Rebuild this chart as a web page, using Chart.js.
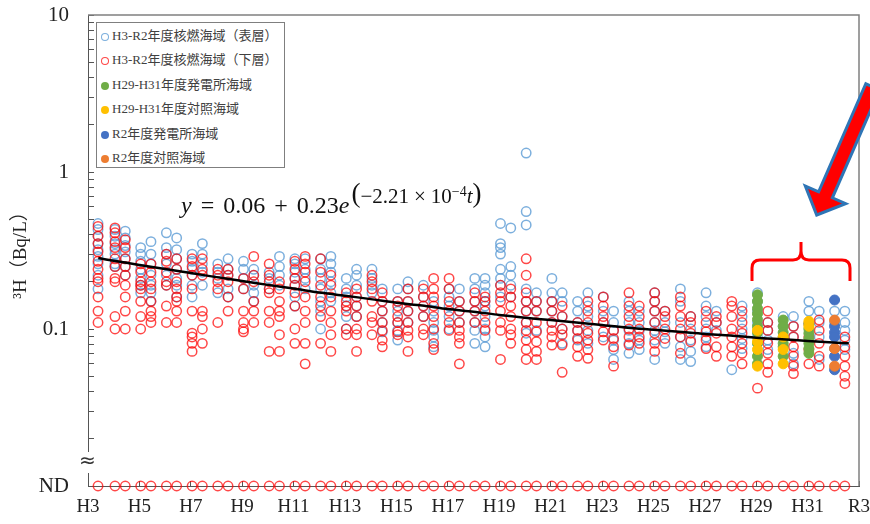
<!DOCTYPE html>
<html>
<head>
<meta charset="utf-8">
<title>3H</title>
<script src="https://cdn.jsdelivr.net/npm/chart.js"></script>
<style>
  body { margin: 0; background: #fff; }
  #wrap { position: relative; width: 870px; height: 524px; }
  #legend { position: absolute; left: 96px; top: 22px; width: 189px; height: 146px; box-sizing: border-box;
            border: 1px solid #7f7f7f; background: #fff; padding-top: 1px;
            font: 13px "Liberation Serif", "Noto Sans CJK JP", serif; color: #404040; }
  #legend div { height: 24.4px; line-height: 24.4px; white-space: nowrap; }
  #legend .mk { display: inline-block; width: 8px; height: 8px; border-radius: 50%; box-sizing: border-box;
                margin: 0 3px 0 4px; vertical-align: -1px; }
  #eq { position: absolute; left: 181px; top: 193px; font: 24px "Liberation Serif", serif; line-height: 24px;
        color: #111; white-space: nowrap; }
  #eq .op { margin: 0 9px; }
  #eq .ex { font-size: 21px; line-height: 0; position: relative; top: -10px; margin-left: 2px; }
  #eq .ex .tm { margin: 0 5px; }
  #eq .par { font-size: 27px; line-height: 0; position: relative; top: -1px; }
  #eq .sup { font-size: 14px; line-height: 0; position: relative; top: -7px; }
</style>
</head>
<body>
<div id="wrap">
  <canvas id="myChart" width="870" height="524"></canvas>
  <div id="legend"></div>
  <div id="eq"><i>y</i><span class="op">=</span>0.06<span class="op">+</span>0.23<i>e</i><span class="ex"><span class="par">(</span>−2.21<span class="tm">×</span>10<span class="sup">−4</span><i>t</i><span class="par">)</span></span></div>
</div>

<script>
  // x axis: years since start of H3 (FY1991)
  var xTickValues = [0, 2, 4, 6, 8, 10, 12, 14, 16, 18, 20, 22, 24, 26, 28, 30]
  var xTickLabels = ["H3", "H5", "H7", "H9", "H11", "H13", "H15", "H17", "H19", "H21", "H23", "H25", "H27", "H29", "H31", "R3"]

  var yTickValues = [0.01, 0.02, 0.03, 0.04, 0.05, 0.06, 0.07, 0.08, 0.09,
                     0.1, 0.2, 0.3, 0.4, 0.5, 0.6, 0.7, 0.8, 0.9,
                     1, 2, 3, 4, 5, 6, 7, 8, 9, 10]
  var yLabelValues = [0.01, 0.1, 1, 10]
  var yLabelTexts = ["ND", "0.1", "1", "10"]
  var yTitle = "³H（Bq/L）"

  var seriesNames = ["H3-R2年度核燃海域（表層）", "H3-R2年度核燃海域（下層）", "H29-H31年度発電所海域",
                     "H29-H31年度対照海域", "R2年度発電所海域", "R2年度対照海域"]

  // sampling columns (years since H3)
  var colTimes = [0.39, 1.05, 1.45, 2.05, 2.45, 3.05, 3.45, 4.05, 4.45, 5.05, 5.45, 6.05, 6.45, 7.05, 7.45,
                  8.05, 8.45, 9.05, 9.45, 10.05, 10.45, 11.05, 11.45, 12.05, 12.45, 13.05, 13.45, 14.05, 14.45,
                  15.05, 15.45, 16.05, 16.45, 17.05, 17.45, 18.05, 18.45, 19.05, 19.45, 20.05, 20.45, 21.05, 21.45,
                  22.05, 22.45, 23.05, 23.45, 24.05, 24.45, 25.05, 25.45, 26.05, 26.45, 27.05, 27.45, 28.05, 28.45,
                  29.05, 29.45]

  // 表層 (Bq/L), one list per column
  var surfaceVals = [
    [0.47, 0.43, 0.39, 0.35, 0.32, 0.29, 0.26, 0.22, 0.18],
    [0.43, 0.39, 0.35, 0.32, 0.30, 0.26, 0.25],
    [0.42, 0.38, 0.34, 0.31, 0.28, 0.25, 0.22],
    [0.33, 0.30, 0.27, 0.24, 0.21, 0.19, 0.17],
    [0.36, 0.30, 0.26, 0.22, 0.19, 0.17, 0.15],
    [0.41, 0.33, 0.30, 0.26, 0.22, 0.19],
    [0.38, 0.32, 0.28, 0.24, 0.21, 0.19, 0.16],
    [0.30, 0.27, 0.24, 0.22, 0.19, 0.16],
    [0.35, 0.30, 0.26, 0.23, 0.19],
    [0.26, 0.23, 0.21, 0.17],
    [0.28, 0.24, 0.22, 0.18, 0.16],
    [0.27, 0.24, 0.21, 0.18],
    [0.24, 0.22, 0.19, 0.17, 0.15],
    [0.23, 0.21, 0.18],
    [0.29, 0.25, 0.22, 0.19],
    [0.28, 0.26, 0.23, 0.21, 0.19, 0.16, 0.14],
    [0.28, 0.24, 0.21, 0.18],
    [0.28, 0.24, 0.21, 0.18, 0.15, 0.13, 0.10],
    [0.29, 0.26, 0.23, 0.20, 0.17, 0.15],
    [0.21, 0.18, 0.16, 0.14, 0.12, 0.10],
    [0.24, 0.22, 0.19, 0.16, 0.14, 0.12],
    [0.24, 0.21, 0.19, 0.17],
    [0.18, 0.15, 0.13, 0.11, 0.096],
    [0.18, 0.15, 0.13, 0.11, 0.098, 0.085],
    [0.20, 0.18, 0.15, 0.13, 0.11],
    [0.19, 0.16, 0.14, 0.12],
    [0.15, 0.13, 0.11, 0.098, 0.089, 0.077],
    [0.18, 0.16, 0.14, 0.12, 0.10],
    [0.18, 0.15, 0.13, 0.11],
    [0.21, 0.18, 0.15, 0.13, 0.11, 0.098, 0.081],
    [0.21, 0.19, 0.17, 0.15, 0.14, 0.12, 0.10, 0.089, 0.077],
    [0.47, 0.35, 0.33, 0.30, 0.24, 0.21, 0.19, 0.16],
    [0.44, 0.25, 0.22, 0.19, 0.16],
    [1.32, 0.56, 0.46, 0.18, 0.15, 0.13, 0.11, 0.094],
    [0.17, 0.15, 0.13, 0.098],
    [0.21, 0.17, 0.15, 0.13, 0.11],
    [0.17, 0.15, 0.12, 0.10, 0.081],
    [0.15, 0.13, 0.11, 0.098, 0.085],
    [0.17, 0.14, 0.12, 0.098, 0.081],
    [0.16, 0.13, 0.11, 0.089],
    [0.13, 0.11, 0.098, 0.085, 0.074, 0.064],
    [0.15, 0.13, 0.11, 0.098, 0.081, 0.070],
    [0.13, 0.11, 0.098, 0.085, 0.074],
    [0.17, 0.15, 0.13, 0.11, 0.098, 0.085, 0.064],
    [0.13, 0.11, 0.096, 0.081],
    [0.18, 0.15, 0.11, 0.089, 0.077, 0.064],
    [0.12, 0.10, 0.085, 0.072, 0.062],
    [0.17, 0.14, 0.12, 0.10, 0.089, 0.077],
    [0.13, 0.11, 0.098],
    [0.055],
    [0.14, 0.12, 0.10, 0.087, 0.075],
    [0.17, 0.15, 0.13, 0.11, 0.089],
    [0.11, 0.098, 0.085, 0.074],
    [0.12, 0.104],
    [0.12, 0.104, 0.089, 0.070, 0.060],
    [0.15, 0.13],
    [0.13, 0.11, 0.089, 0.064],
    [0.13, 0.11],
    [0.13, 0.11, 0.098, 0.085, 0.074]
  ]

  // 下層 (Bq/L)
  var bottomVals = [
    [0.45, 0.39, 0.35, 0.31, 0.27, 0.24, 0.21, 0.20, 0.16, 0.13, 0.11],
    [0.44, 0.41, 0.36, 0.33, 0.28, 0.25, 0.21, 0.20, 0.12, 0.10],
    [0.37, 0.33, 0.28, 0.25, 0.22, 0.19, 0.16, 0.13, 0.10],
    [0.26, 0.23, 0.20, 0.19, 0.18, 0.15, 0.12, 0.10],
    [0.26, 0.23, 0.20, 0.18, 0.15, 0.13, 0.12, 0.11],
    [0.30, 0.27, 0.23, 0.20, 0.19, 0.14, 0.11],
    [0.28, 0.24, 0.20, 0.18, 0.16, 0.15, 0.13, 0.11],
    [0.28, 0.25, 0.22, 0.18, 0.13, 0.094, 0.089, 0.081, 0.072],
    [0.28, 0.24, 0.22, 0.13, 0.12, 0.10, 0.081],
    [0.24, 0.22, 0.20, 0.18, 0.11],
    [0.24, 0.22, 0.20, 0.16, 0.13],
    [0.21, 0.18, 0.13, 0.11, 0.10, 0.096],
    [0.29, 0.22, 0.20, 0.15, 0.13, 0.11],
    [0.26, 0.22, 0.20, 0.18, 0.17, 0.13, 0.11, 0.072],
    [0.20, 0.18, 0.15, 0.13, 0.12, 0.092, 0.072],
    [0.27, 0.24, 0.21, 0.19, 0.17, 0.14, 0.10, 0.081],
    [0.29, 0.26, 0.23, 0.20, 0.16, 0.13, 0.11, 0.081, 0.060],
    [0.28, 0.23, 0.19, 0.16, 0.14, 0.12, 0.081],
    [0.22, 0.19, 0.16, 0.13, 0.11, 0.092, 0.072],
    [0.17, 0.15, 0.14, 0.13, 0.10, 0.092],
    [0.18, 0.16, 0.14, 0.12, 0.10, 0.092, 0.072],
    [0.22, 0.20, 0.18, 0.15, 0.12, 0.11, 0.092],
    [0.17, 0.15, 0.13, 0.11, 0.098, 0.085, 0.077],
    [0.15, 0.14, 0.12, 0.11, 0.096, 0.092],
    [0.18, 0.15, 0.13, 0.11, 0.098, 0.089, 0.072],
    [0.18, 0.16, 0.14, 0.12, 0.10, 0.092],
    [0.21, 0.18, 0.16, 0.14, 0.12, 0.10, 0.081, 0.074],
    [0.21, 0.18, 0.15, 0.13, 0.11, 0.098],
    [0.15, 0.13, 0.11, 0.098, 0.089, 0.081, 0.060],
    [0.17, 0.15, 0.13, 0.11],
    [0.16, 0.15, 0.13, 0.11, 0.098],
    [0.19, 0.17, 0.15, 0.13, 0.11, 0.098, 0.064],
    [0.18, 0.16, 0.14, 0.12, 0.10, 0.092, 0.081],
    [0.28, 0.22, 0.17, 0.15, 0.13, 0.11, 0.098, 0.085, 0.074, 0.064],
    [0.15, 0.13, 0.11, 0.096, 0.083, 0.072, 0.064],
    [0.15, 0.13, 0.11, 0.098, 0.089, 0.079],
    [0.14, 0.12, 0.10, 0.092, 0.079, 0.053],
    [0.11, 0.098, 0.087, 0.077, 0.067],
    [0.15, 0.13, 0.11, 0.094, 0.085, 0.074, 0.065],
    [0.16, 0.14, 0.12, 0.11, 0.096, 0.085],
    [0.098, 0.087, 0.077, 0.058],
    [0.17, 0.14, 0.12, 0.10, 0.089, 0.079],
    [0.14, 0.12, 0.10, 0.089, 0.081],
    [0.17, 0.15, 0.13, 0.11, 0.094, 0.081, 0.072],
    [0.13, 0.12, 0.10, 0.087],
    [0.16, 0.14, 0.12, 0.10, 0.089, 0.070],
    [0.12, 0.11, 0.094, 0.083],
    [0.13, 0.11, 0.096, 0.085, 0.075],
    [0.12, 0.11, 0.094, 0.077, 0.067],
    [0.15, 0.14, 0.12, 0.10, 0.089, 0.077, 0.067],
    [0.13, 0.11, 0.094, 0.081, 0.070, 0.060],
    [0.042],
    [0.13, 0.11, 0.098, 0.081, 0.070, 0.060, 0.053],
    [],
    [0.104, 0.089, 0.077, 0.067, 0.058, 0.052],
    [0.108, 0.089, 0.074, 0.060],
    [0.114, 0.098, 0.081, 0.067, 0.058],
    [],
    [0.089, 0.077, 0.067, 0.058, 0.050, 0.045]
  ]

  var plantH29Times = [26.05, 27.05, 28.05]
  var plantH29Vals = [[0.165, 0.15, 0.135, 0.125, 0.115, 0.104, 0.095, 0.081, 0.067, 0.06],
                      [0.114, 0.104, 0.095, 0.089, 0.081, 0.077, 0.067],
                      [0.108, 0.10, 0.094, 0.087, 0.081, 0.075, 0.07]]
  var refH29Times = [26.05, 27.05, 28.05]
  var refH29Vals = [[0.098, 0.083, 0.074, 0.058], [0.089, 0.074, 0.06], [0.112, 0.104]]
  var plantR2Times = [29.05]
  var plantR2Vals = [[0.153, 0.104, 0.095, 0.089, 0.075, 0.067, 0.055]]
  var refR2Times = [29.05]
  var refR2Vals = [[0.114, 0.075, 0.058]]

  var ndLevel = 0.01   // not detected, drawn on the ND line

  // fitted curve
  var trendT = [0.4, 1, 2, 3, 4, 5, 6, 7, 8, 9, 10, 11, 12, 13, 14, 15, 16, 17, 18, 19, 20,
                21, 22, 23, 24, 25, 26, 27, 28, 29, 29.6]
  var trendY = [0.283, 0.272, 0.256, 0.241, 0.227, 0.214, 0.202, 0.191, 0.181, 0.171, 0.163,
                0.155, 0.147, 0.141, 0.134, 0.129, 0.123, 0.118, 0.114, 0.110, 0.106,
                0.102, 0.099, 0.096, 0.093, 0.091, 0.088, 0.086, 0.084, 0.082, 0.081]

  function toPoints(times, cols) {
    var out = []
    times.forEach(function (t, i) {
      cols[i].forEach(function (v) { out.push({x: t, y: v}) })
    })
    return out
  }

  function openSeries(label, data, color, order) {
    return { label: label, data: data, pointRadius: 4.7, pointBorderWidth: 1.5,
             pointBorderColor: color, borderColor: color,
             pointBackgroundColor: 'rgba(255,255,255,0)', backgroundColor: 'rgba(255,255,255,0)', order: order }
  }
  function filledSeries(label, data, color, order) {
    return { label: label, data: data, pointRadius: 5, pointBorderWidth: 1,
             pointBorderColor: color, borderColor: color,
             pointBackgroundColor: color, backgroundColor: color, order: order }
  }

  var blueOpen = 'rgba(91,155,213,0.8)'
  var redOpen = 'rgba(255,0,0,0.72)'

  var ndSeries = openSeries('ND', colTimes.map(function (t) { return {x: t, y: ndLevel} }), redOpen, 5)
  ndSeries.clip = false

  // frame, axis break, arrow and bracket
  var decor = {
    id: 'decor',
    afterDraw: function (chart) {
      var ctx = chart.ctx, a = chart.chartArea
      ctx.save()
      ctx.strokeStyle = '#808080'
      ctx.lineWidth = 1.5
      ctx.beginPath()
      ctx.moveTo(a.left, a.top); ctx.lineTo(a.right, a.top); ctx.lineTo(a.right, a.bottom)
      ctx.stroke()

      // break in the y axis
      ctx.fillStyle = '#fff'
      ctx.fillRect(a.left - 3, a.bottom - 34, 6, 21)
      ctx.fillStyle = '#333'
      ctx.font = '20px "DejaVu Sans"'
      ctx.textAlign = 'center'
      ctx.textBaseline = 'middle'
      ctx.fillText('≈', a.left - 0.5, a.bottom - 24)

      // arrow
      var tip = [816.7, 215], d = [0.40, -0.916], p = [0.916, 0.40]
      function pt(s, w) { return [tip[0] + s * d[0] + w * p[0], tip[1] + s * d[1] + w * p[1]] }
      var poly = [pt(0, 0), pt(22, 22), pt(22, 7.5), pt(140, 7.5), pt(140, -7.5), pt(22, -7.5), pt(22, -22)]
      ctx.beginPath()
      poly.forEach(function (q, i) { if (i === 0) ctx.moveTo(q[0], q[1]); else ctx.lineTo(q[0], q[1]) })
      ctx.closePath()
      ctx.fillStyle = '#ff0000'
      ctx.fill()
      ctx.lineWidth = 3
      ctx.lineJoin = 'miter'
      ctx.strokeStyle = '#2e75b6'
      ctx.stroke()

      // curly bracket
      ctx.strokeStyle = '#ff0000'
      ctx.lineWidth = 3
      ctx.lineJoin = 'round'
      ctx.beginPath()
      ctx.moveTo(752, 281); ctx.lineTo(752, 268)
      ctx.quadraticCurveTo(752, 260, 760, 260); ctx.lineTo(793, 260)
      ctx.quadraticCurveTo(801, 260, 801, 251); ctx.lineTo(801, 242)
      ctx.moveTo(801, 251)
      ctx.quadraticCurveTo(801, 260, 809, 260); ctx.lineTo(842, 260)
      ctx.quadraticCurveTo(850, 260, 850, 268); ctx.lineTo(850, 281)
      ctx.stroke()
      ctx.restore()
    }
  }

  Chart.defaults.font.family = '"Liberation Serif", serif'
  Chart.defaults.color = '#222'

  const ctx = document.getElementById('myChart')

  var chart = new Chart(ctx, {
    type: 'scatter',
    data: {
      datasets: [
        openSeries(seriesNames[0], toPoints(colTimes, surfaceVals), blueOpen, 6),
        openSeries(seriesNames[1], toPoints(colTimes, bottomVals), redOpen, 5),
        filledSeries(seriesNames[2], toPoints(plantH29Times, plantH29Vals), '#70ad47', 4),
        filledSeries(seriesNames[3], toPoints(refH29Times, refH29Vals), '#ffc000', 3),
        filledSeries(seriesNames[4], toPoints(plantR2Times, plantR2Vals), '#4472c4', 2),
        filledSeries(seriesNames[5], toPoints(refR2Times, refR2Vals), '#ed7d31', 1),
        ndSeries,
        {
          label: 'fit', type: 'line', showLine: true,
          data: trendT.map(function (t, i) { return {x: t, y: trendY[i]} }),
          borderColor: '#000', borderWidth: 2.5, pointRadius: 0, tension: 0.3, order: 0
        }
      ]
    },
    plugins: [decor],
    options: {
      responsive: false,
      animation: false,
      events: [],
      layout: { padding: { left: 0, top: 15, right: 11, bottom: 0 } },
      plugins: { legend: { display: false }, tooltip: { enabled: false } },
      scales: {
        x: {
          type: 'linear', min: 0, max: 30,
          afterBuildTicks: function (s) { s.ticks = xTickValues.map(function (v) { return {value: v} }) },
          afterFit: function (s) { s.height = 38; s.paddingLeft = 0; s.paddingRight = 0 },
          ticks: {
            autoSkip: false, maxRotation: 0, padding: 15, font: { size: 19 },
            callback: function (v, i) { return xTickLabels[i] }
          },
          grid: { drawOnChartArea: false, tickLength: -5, color: '#555' },
          border: { color: '#555', width: 1 }
        },
        y: {
          type: 'logarithmic', min: 0.01, max: 10,
          afterBuildTicks: function (s) { s.ticks = yTickValues.map(function (v) { return {value: v} }) },
          afterFit: function (s) { s.width = 88; s.paddingTop = 0; s.paddingBottom = 0 },
          ticks: {
            autoSkip: false, padding: 25, font: { size: 21 },
            callback: function (v) {
              var k = yLabelValues.indexOf(v)
              return k < 0 ? '' : yLabelTexts[k]
            }
          },
          grid: {
            drawOnChartArea: false, tickLength: -6,
            color: function (c) { return c.tick && c.tick.value === ndLevel ? 'rgba(0,0,0,0)' : '#555' }
          },
          border: { color: '#555', width: 1 },
          title: {
            display: true, text: yTitle, color: '#222',
            font: { size: 19, family: '"Liberation Serif", "Noto Sans CJK JP", serif' },
            padding: { top: 10, bottom: 0 }
          }
        }
      }
    }
  })

  // legend in the upper left box
  var legendEl = document.getElementById('legend')
  chart.data.datasets.slice(0, 6).forEach(function (ds, i) {
    var row = document.createElement('div')
    var mk = document.createElement('span')
    mk.className = 'mk'
    if (i < 2) {
      mk.style.border = '1.5px solid ' + ds.pointBorderColor
      mk.style.background = '#fff'
    } else {
      mk.style.background = ds.pointBackgroundColor
    }
    row.appendChild(mk)
    row.appendChild(document.createTextNode(ds.label))
    legendEl.appendChild(row)
  })
</script>
</body>
</html>
